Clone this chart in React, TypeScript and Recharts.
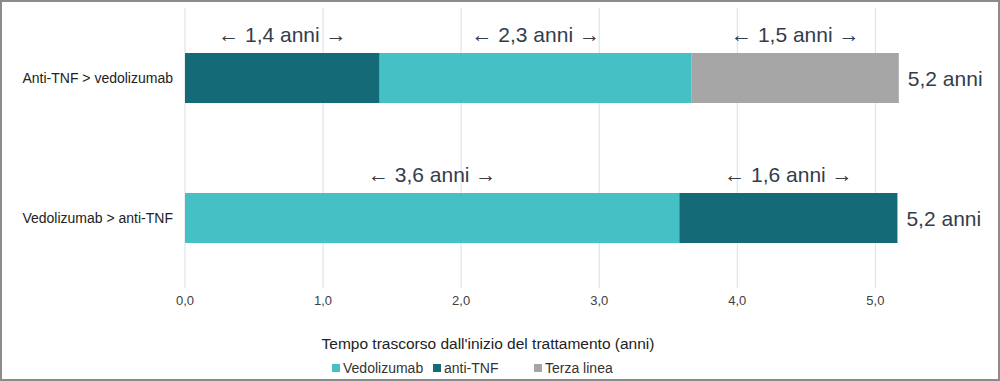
import { BarChart, Bar, XAxis, YAxis, CartesianGrid, Legend, LabelList } from 'recharts'

const categories = ['Anti-TNF > vedolizumab', 'Vedolizumab > anti-TNF']
const antiTnfFirst = [1.41, 0]
const vedolizumab = [2.26, 3.58]
const antiTnfSecond = [0, 1.58]
const terzaLinea = [1.5, 0]
const xTicks = [0, 1, 2, 3, 4, 5]

const SERIES = ['antiFirst', 'vedo', 'antiSecond', 'terza'] as const
const COLORS = { vedo: '#45c1c6', anti: '#156a78', terza: '#a6a6a6' }
const FONT = '"Liberation Sans", Arial, sans-serif'
const TEXT = '#333d4c'

const data = categories.map((name, i) => ({
  name,
  antiFirst: antiTnfFirst[i],
  vedo: vedolizumab[i],
  antiSecond: antiTnfSecond[i],
  terza: terzaLinea[i],
}))

const fmt = (v: number) => v.toFixed(1).replace('.', ',')

function lastKey(row: any) {
  let last = ''
  SERIES.forEach((k) => { if (row[k] > 0) last = k })
  return last
}

// labels above each segment, plus the row total after the last segment
const segmentLabel = (key: string) => (props: any) => {
  const { x, y, width, height, value } = props
  const v = Number(value)
  if (!v) return null
  const row: any = data.find((r: any) => r[key] === v) || data[0]
  const total = SERIES.reduce((s, k) => s + row[k], 0)
  return (
    <g>
      <text x={x + width / 2} y={y - 19} textAnchor="middle" dominantBaseline="central"
        fontSize={21} fontFamily={FONT} fill={TEXT}>
        {`← ${fmt(v)} anni →`}
      </text>
      {lastKey(row) === key && (
        <text x={x + width + 9} y={y + height / 2} textAnchor="start" dominantBaseline="central"
          fontSize={21} fontFamily={FONT} fill={TEXT}>
          {`${fmt(total)} anni`}
        </text>
      )}
    </g>
  )
}

const legendItems = [
  { name: 'Vedolizumab', color: COLORS.vedo },
  { name: 'anti-TNF', color: COLORS.anti },
  { name: 'Terza linea', color: COLORS.terza },
]

function BottomLegend() {
  return (
    <div style={{ position: 'relative', width: 996, height: 65, fontFamily: FONT }}>
      <div style={{ position: 'absolute', left: 0, width: 972, top: 21, textAlign: 'center', fontSize: 15.5, color: '#222', lineHeight: '18px', whiteSpace: 'nowrap' }}>
        Tempo trascorso dall'inizio del trattamento (anni)
      </div>
      <div style={{ position: 'absolute', left: 330, top: 45, display: 'flex', fontSize: 14, color: '#333', lineHeight: '18px' }}>
        {legendItems.map((it) => (
          <span key={it.name} style={{ display: 'flex', alignItems: 'center', width: 101 }}>
            <span style={{ width: 8, height: 8, background: it.color, marginRight: 3, display: 'inline-block' }} />
            {it.name}
          </span>
        ))}
      </div>
    </div>
  )
}

export default function App() {
  return (
    <div style={{ position: 'absolute', left: 0, top: 0, width: 1000, height: 381, border: '2px solid #8c8c8c', boxSizing: 'border-box', background: '#fff' }}>
      <BarChart width={996} height={377} data={data} layout="vertical" barSize={50}
        margin={{ top: 6, right: 26, left: 0, bottom: 0 }}>
        <CartesianGrid horizontal={false} stroke="#d6dfe9" verticalValues={xTicks} />
        <XAxis type="number" domain={[0, 5.7]} ticks={xTicks} tickFormatter={fmt}
          axisLine={false} tickLine={false} tickSize={0} tickMargin={8} height={26}
          tick={{ fontSize: 13, fill: '#404040', fontFamily: FONT }} />
        <YAxis type="category" dataKey="name" width={183} axisLine={false} tickLine={false}
          tickSize={0} tickMargin={12} tick={{ fontSize: 14, fill: '#222', fontFamily: FONT }} />
        <Legend verticalAlign="bottom" content={() => <BottomLegend />}
          wrapperStyle={{ left: 0, width: 996, height: 65 }} />
        <Bar dataKey="antiFirst" stackId="a" fill={COLORS.anti} isAnimationActive={false}>
          <LabelList dataKey="antiFirst" content={segmentLabel('antiFirst')} />
        </Bar>
        <Bar dataKey="vedo" stackId="a" fill={COLORS.vedo} isAnimationActive={false}>
          <LabelList dataKey="vedo" content={segmentLabel('vedo')} />
        </Bar>
        <Bar dataKey="antiSecond" stackId="a" fill={COLORS.anti} isAnimationActive={false}>
          <LabelList dataKey="antiSecond" content={segmentLabel('antiSecond')} />
        </Bar>
        <Bar dataKey="terza" stackId="a" fill={COLORS.terza} isAnimationActive={false}>
          <LabelList dataKey="terza" content={segmentLabel('terza')} />
        </Bar>
      </BarChart>
    </div>
  )
}
